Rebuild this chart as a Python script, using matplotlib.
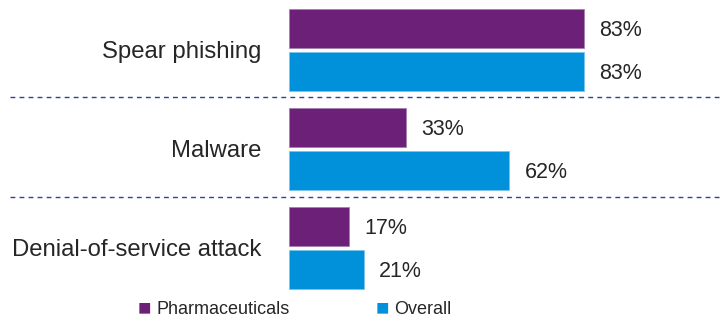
import numpy as np
import matplotlib
matplotlib.use('Agg')
import matplotlib.pyplot as plt

# Data
categories = ['Spear phishing', 'Malware', 'Denial-of-service attack']
pharma = [83, 33, 17]
overall = [83, 62, 21]
series_names = ['Pharmaceuticals', 'Overall']

purple = '#6D2077'
blue = '#0091DA'
dash_col = '#24479A'
txt_col = '#262626'

plt.rcParams['font.family'] = ['Liberation Sans', 'DejaVu Sans']

W, H = 723, 323
fig = plt.figure(figsize=(W / 100, H / 100), dpi=100)
# axes from x=289 px to right edge, full height
ax = fig.add_axes([289 / W, 0, 1 - 289 / W, 1])
px_per_pct = 3.554
ax.set_xlim(0, (W - 289) / px_per_pct)
step = 99.0
ax.set_ylim((H - 50) / step, -50 / step)
ax.axis('off')

y = np.arange(len(categories))
bh = 39 / step
off = 21.5 / step
dy = 2 / step  # small downward nudge for text
ax.barh(y - off, pharma, height=bh, color=purple, edgecolor='#a57fae', linewidth=0.6)
ax.barh(y + off, overall, height=bh, color=blue, edgecolor='#7cc3ec', linewidth=0.6)

for i in range(len(categories)):
    ax.text(pharma[i] + 4.3, y[i] - off + dy, f'{pharma[i]}%', va='center', ha='left',
            fontsize=15.5, color=txt_col)
    ax.text(overall[i] + 4.3, y[i] + off + dy, f'{overall[i]}%', va='center', ha='left',
            fontsize=15.5, color=txt_col)
    ax.text(-28 / px_per_pct, y[i] + dy, categories[i], va='center', ha='right',
            fontsize=17.2, color=txt_col)

# dashed separators
x0 = (10 - 289) / px_per_pct
x1 = (721 - 289) / px_per_pct
for yy in [0.475, 1.485]:
    ax.plot([x0, x1], [yy, yy], linestyle=(0, (3.5, 3)), color=dash_col, lw=1.0, clip_on=False)

# legend
fig.text(138 / W, 1 - 309 / H, '\u25A0', color=purple, fontsize=16, va='center', ha='left')
fig.text(156 / W, 1 - 310 / H, series_names[0], color=txt_col, fontsize=13, va='center', ha='left')
fig.text(376 / W, 1 - 309 / H, '\u25A0', color=blue, fontsize=16, va='center', ha='left')
fig.text(394 / W, 1 - 310 / H, series_names[1], color=txt_col, fontsize=13, va='center', ha='left')

plt.savefig('out.png', dpi=100)
plt.close()
